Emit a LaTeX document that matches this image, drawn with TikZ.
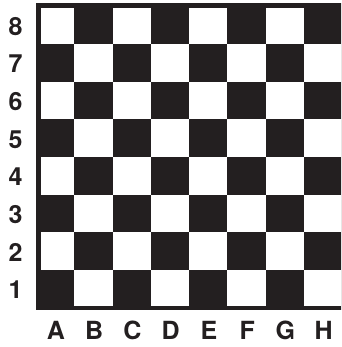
\documentclass[tikz,border=0pt]{standalone}
\usepackage{fontspec}
\setmainfont{TeX Gyre Heros}
\definecolor{boardblack}{RGB}{35,31,32}
\tikzset{
  darkfill/.style={fill=boardblack},
  lightsq/.style={fill=white},
  boardlabel/.style={font=\fontsize{25}{25}\selectfont\bfseries, text=boardblack, inner sep=0pt, anchor=center}
}
\begin{document}
\begin{tikzpicture}[x=1pt,y=-1pt]
\useasboundingbox (0,0) rectangle (341,347);
\clip (0,0) rectangle (341,347);
% board background (dark squares and frame)
\fill[darkfill] (36,3) rectangle (350,309.5);
% light squares
\begin{scope}
  \clip (41,8.3) rectangle (350,305.7);
  \foreach \i in {0,...,7}{
    \foreach \j in {0,...,7}{
      \pgfmathparse{int(mod(\i+\j,2))}
      \ifnum\pgfmathresult=0
        \fill[lightsq] ({36+38.25*\i},{6.7+37.6*\j}) rectangle ({36+38.25*(\i+1)},{6.7+37.6*(\j+1)});
      \fi
    }
  }
\end{scope}
% rank labels
\foreach \r [count=\j from 0] in {8,7,6,5,4,3,2,1}{
  \node[boardlabel] (rank\r) at (15.5,{6.7+37.6*\j+18.8+1}) {\r};
}
% file labels
\foreach \f [count=\i from 0] in {A,B,C,D,E,F,G,H}{
  \node[boardlabel] (file\f) at ({36+38.25*\i+19.1+0.8},330) {\f};
}
\end{tikzpicture}
\end{document}
